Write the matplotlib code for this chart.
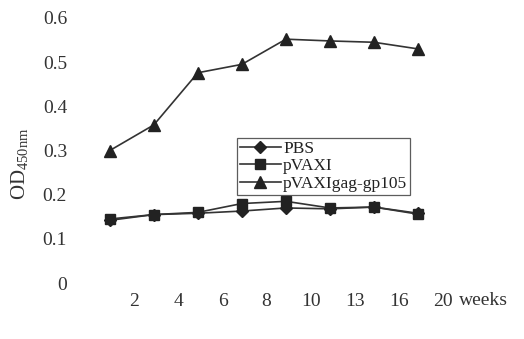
import matplotlib
matplotlib.use("Agg")
import matplotlib.pyplot as plt
import numpy as np

weeks = ["2", "4", "6", "8", "10", "13", "16", "20"]
pbs = [0.142, 0.155, 0.158, 0.163, 0.170, 0.168, 0.172, 0.158]
pvaxi = [0.145, 0.155, 0.160, 0.180, 0.185, 0.170, 0.172, 0.156]
pvaxi_gag = [0.300, 0.358, 0.476, 0.495, 0.552, 0.548, 0.545, 0.530]
series_names = ["PBS", "pVAXI", "pVAXIgag-gp105"]
yticks = [0, 0.1, 0.2, 0.3, 0.4, 0.5, 0.6]

plt.rcParams['font.family'] = ['Liberation Serif', 'DejaVu Serif']
plt.rcParams['mathtext.fontset'] = 'custom'
plt.rcParams['mathtext.rm'] = 'Liberation Serif'

fig = plt.figure(figsize=(5.24, 3.39), dpi=100)
ax = fig.add_axes([0.181, 0.165, 0.678, 0.782])

x = np.arange(len(weeks))
lc = '#333333'
mc = '#222222'
ax.plot(x, pbs, color=lc, lw=1.2, marker='D', ms=6, mfc=mc, mec=mc, label=series_names[0])
ax.plot(x, pvaxi, color=lc, lw=1.2, marker='s', ms=7.5, mfc=mc, mec=mc, label=series_names[1])
ax.plot(x, pvaxi_gag, color=lc, lw=1.2, marker='^', ms=8, mfc=mc, mec=mc, label=series_names[2])

ax.set_xlim(-0.34, 7.73)
ax.set_ylim(0, 0.6)
ax.set_xticks(x + 0.56)
ax.set_xticklabels(weeks)
ax.set_yticks(yticks)
ax.set_yticklabels(["0" if v == 0 else f"{v:.1f}" for v in yticks])
ax.tick_params(axis='both', length=0, labelsize=14, colors='#333333')
ax.tick_params(axis='x', pad=7)
ax.tick_params(axis='y', pad=20)
for s in ax.spines.values():
    s.set_visible(False)

ax.set_ylabel(r"OD$_{\mathrm{450nm}}$", fontsize=15, color='#333333')
ax.yaxis.set_label_coords(-0.18, 0.45)
ax.text(1.095, -0.035, "weeks", transform=ax.transAxes, fontsize=14,
        color='#333333', ha='center', va='top')

leg = ax.legend(loc='upper left', bbox_to_anchor=(0.40, 0.547), fontsize=12.5,
                frameon=True, fancybox=False, edgecolor='#333333',
                handlelength=2.4, handletextpad=0.1, borderpad=0.15,
                labelspacing=0.08, borderaxespad=0)
leg.get_frame().set_linewidth(0.9)
for t in leg.get_texts():
    t.set_color('#222222')

fig.savefig("out.png", dpi=100, facecolor='white')
